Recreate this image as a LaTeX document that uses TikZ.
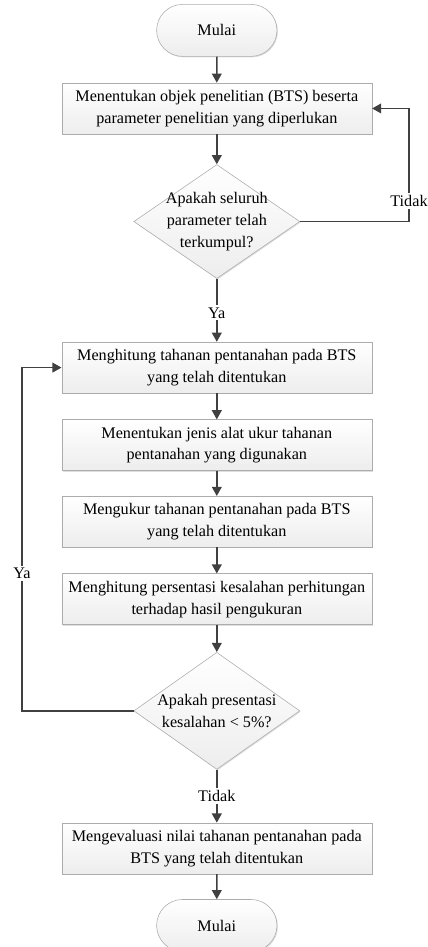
\documentclass[tikz,border=0pt]{standalone}
\usepackage{fontspec}
\setmainfont{Liberation Serif}
\usetikzlibrary{positioning,shapes.geometric,shapes.misc,arrows.meta,shadows}

\tikzset{
  kotak/.style={draw=gray!65, top color=white, bottom color=gray!14,
    drop shadow={opacity=0.25, shadow xshift=0.7pt, shadow yshift=-0.7pt}},
  proses/.style={kotak, rectangle, minimum width=7.75cm, minimum height=1.275cm,
    inner sep=2pt, align=center},
  terminal/.style={kotak, rounded rectangle, minimum width=3.15cm,
    minimum height=1.3cm, inner sep=2pt},
  keputusan/.style={kotak, diamond, minimum width=4.15cm, minimum height=2.85cm,
    inner sep=0pt},
  teks/.style={align=center, inner sep=0pt},
  garis/.style={draw=black!75, line width=1pt},
  panah/.style={garis, -{Triangle[length=6.5pt,width=7pt]}},
  ket/.style={fill=white, inner sep=1.5pt},
}

\begin{document}
\begin{tikzpicture}[font=\fontsize{11.5}{15.6}\selectfont]
  \useasboundingbox (0,0) rectangle (10.675,-23.675);

  % alur utama
  \node[terminal] (mulai) at (5.42,-0.76) {Mulai};
  \node[proses, below=0.65cm of mulai] (objek) {Menentukan objek penelitian (BTS) beserta\\parameter penelitian yang diperlukan};
  \node[keputusan, below=0.75cm of objek] (lengkap) {};
  \node[teks] (lengkapteks) at (lengkap) {Apakah seluruh\\parameter telah\\terkumpul?};
  \node[proses, below=1.575cm of lengkap] (hitung) {Menghitung tahanan pentanahan pada BTS\\yang telah ditentukan};
  \node[proses, below=0.65cm of hitung] (alat) {Menentukan jenis alat ukur tahanan\\pentanahan yang digunakan};
  \node[proses, below=0.625cm of alat] (ukur) {Mengukur tahanan pentanahan pada BTS\\yang telah ditentukan};
  \node[proses, below=0.65cm of ukur] (persen) {Menghitung persentasi kesalahan perhitungan\\terhadap hasil pengukuran};
  \node[keputusan, minimum height=2.925cm, below=0.675cm of persen] (galat) {};
  \node[teks] (galatteks) at (galat) {Apakah presentasi\\kesalahan < 5\%?};
  \node[proses, below=1.325cm of galat] (evaluasi) {Mengevaluasi nilai tahanan pentanahan pada\\BTS yang telah ditentukan};
  \node[terminal, below=0.625cm of evaluasi] (selesai) {Mulai};

  \coordinate (kanan) at (10.225,0);
  \coordinate (kiri) at (0.55,0);

  \draw[panah] (mulai) -- (objek);
  \draw[panah] (objek) -- (lengkap);
  \draw[panah] (lengkap) -- node[ket, pos=0.54] {Ya} (hitung);
  \draw[panah] (hitung) -- (alat);
  \draw[panah] (alat) -- (ukur);
  \draw[panah] (ukur) -- (persen);
  \draw[panah] (persen) -- (galat);
  \draw[panah] (galat) -- node[ket] {Tidak} (evaluasi);
  \draw[panah] (evaluasi) -- (selesai);

  % umpan balik
  \draw[panah] (lengkap.east) -- (lengkap.east -| kanan)
    -- node[ket, pos=0.18] {Tidak} (objek.east -| kanan) -- (objek.east);
  \draw[panah] (galat.west) -- (galat.west -| kiri)
    -- node[ket, pos=0.4] {Ya} (hitung.west -| kiri) -- (hitung.west);
\end{tikzpicture}
\end{document}
